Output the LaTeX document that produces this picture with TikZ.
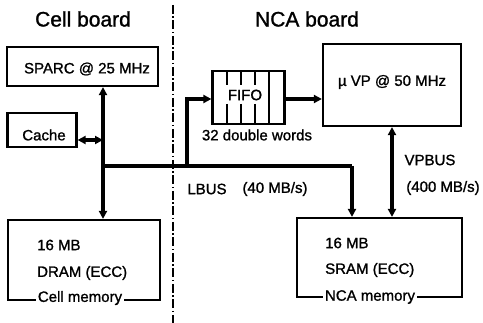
\documentclass[tikz,border=0pt]{standalone}
\usepackage{fontspec}
\setmainfont{Liberation Sans}
\newfontfamily\medfont{Liberation Sans}[FakeBold=1.2]
\usetikzlibrary{arrows.meta}
\begin{document}
\begin{tikzpicture}[x=1pt,y=-1pt,
  box/.style={draw,line width=2.2pt,inner sep=0pt},
  lbl/.style={font=\medfont\fontsize{15}{17}\selectfont,inner sep=0pt},
  ttl/.style={font=\medfont\fontsize{21}{24}\selectfont,inner sep=0pt},
  bus/.style={line width=3.2pt},
  arr/.style={bus,-{Triangle[length=8pt,width=8pt]}},
  darr/.style={bus,{Triangle[length=8pt,width=8pt]}-{Triangle[length=8pt,width=8pt]}},
  gap/.style={lbl,fill=white,inner xsep=2pt,inner ysep=1pt}]
\useasboundingbox (0,0) rectangle (483,323);
% titles
\node[ttl] (celltitle) at (83,19) {Cell board};
\node[ttl] (ncatitle) at (307,19) {NCA board};
% divider
\coordinate (divtop) at (173,5);
\coordinate (divbot) at (173,323);
\draw[line width=1.5pt,dash pattern=on 9pt off 2.5pt on 1.5pt off 2.5pt] (divtop) -- (divbot);
% boxes
\node[box,minimum width=151pt,minimum height=39pt] (sparc) at (82.5,66.5) {};
\node[lbl] (sparclbl) at (87,69) {SPARC @ 25 MHz};
\node[box,minimum width=69pt,minimum height=34pt] (cache) at (42,130) {};
\node[lbl] (cachelbl) at (44,135) {Cache};
\node[box,minimum width=138pt,minimum height=82pt] (vp) at (392,85) {};
\node[lbl] (vplbl) at (392,82) {µ VP @ 50 MHz};
\node[box,minimum width=72pt,minimum height=53pt] (fifo) at (248.5,97.5) {};
\node[lbl] (fifolbl) at (245,95) {FIFO};
\node[lbl] (fifonote) at (257,135) {32 double words};
% fifo internal lines
\foreach \xx in {227,241,255}{
  \draw[line width=1.6pt] (\xx,71) -- (\xx,85);
  \draw[line width=1.6pt] (\xx,104) -- (\xx,124);
}
\draw[line width=1.6pt] (269,71) -- (269,124);
% memories
\node[box,minimum width=152pt,minimum height=80pt] (dram) at (84,260) {};
\node[lbl,anchor=west] (dram1) at (37,245) {16 MB};
\node[lbl,anchor=west] (dram2) at (37,273) {DRAM (ECC)};
\node[gap] (dram3) at (80,298) {Cell memory};
\node[box,minimum width=165pt,minimum height=79pt] (sram) at (379.5,257.5) {};
\node[lbl,anchor=west] (sram1) at (325,243) {16 MB};
\node[lbl,anchor=west] (sram2) at (325,270) {SRAM (ECC)};
\node[gap] (sram3) at (370,297) {NCA memory};
% bus labels
\node[lbl] (lbus) at (207,189) {LBUS};
\node[lbl] (lbusr) at (275,189) {(40 MB/s)};
\node[lbl] (vpbus) at (430,160) {VPBUS};
\node[lbl] (vpbusr) at (443,188) {(400 MB/s)};
% bus coordinates
\coordinate (j1) at (103,166);
\coordinate (j2) at (187,166);
\coordinate (j3) at (352,166);
\coordinate (jc) at (103,140);
% connectors
\draw[bus] (j1) -- (j3);
\draw[arr] (j1) -- (sparc.south -| j1);
\draw[arr] (j1) -- (dram.north -| j1);
\draw[darr] (cache.east |- jc) -- (jc);
\draw[arr] (j2) -- (187,99) -- (fifo.west |- 0,99);
\draw[arr] (j3) -- (sram.north -| j3);
\draw[arr] (fifo.east |- 0,99) -- (vp.west |- 0,99);
\draw[darr] (vp.south -| 392,0) -- (sram.north -| 392,0);
\end{tikzpicture}
\end{document}
